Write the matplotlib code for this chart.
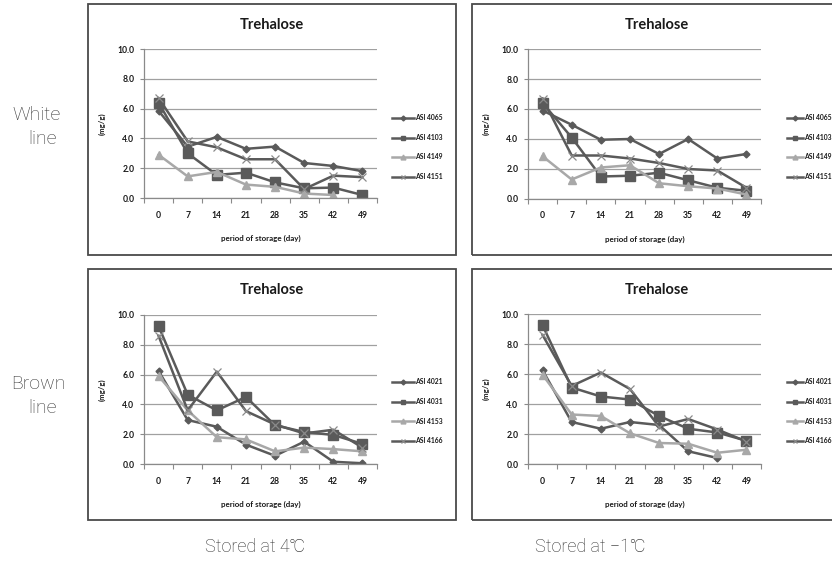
import matplotlib
matplotlib.use("Agg")
import matplotlib.pyplot as plt
from matplotlib.patches import Rectangle
from matplotlib.lines import Line2D
import numpy as np

W, H = 832, 561

days = ["0", "7", "14", "21", "28", "35", "42", "49"]
yticks = [0, 2, 4, 6, 8, 10]

# White line, stored at 4C
wl4_names = ["ASI 4065", "ASI 4103", "ASI 4149", "ASI 4151"]
wl4_4065 = [5.85, 3.45, 4.1, 3.3, 3.45, 2.35, 2.15, 1.8]
wl4_4103 = [6.4, 3.0, 1.55, 1.7, 1.05, 0.65, 0.7, 0.2]
wl4_4149 = [2.9, 1.45, 1.75, 0.9, 0.75, 0.3, 0.2, None]
wl4_4151 = [6.7, 3.8, 3.4, 2.6, 2.6, 0.6, 1.5, 1.4]

# White line, stored at -1C
wlm_names = ["ASI 4065", "ASI 4103", "ASI 4149", "ASI 4151"]
wlm_4065 = [5.9, 4.95, 3.95, 4.0, 3.0, 4.0, 2.7, 3.0]
wlm_4103 = [6.4, 4.1, 1.5, 1.55, 1.75, 1.25, 0.75, 0.55]
wlm_4149 = [2.85, 1.3, 2.1, 2.25, 1.05, 0.85, 0.7, 0.3]
wlm_4151 = [6.7, 2.9, 2.9, 2.7, 2.4, 2.0, 1.9, 0.75]

# Brown line, stored at 4C
bl4_names = ["ASI 4021", "ASI 4031", "ASI 4153", "ASI 4166"]
bl4_4021 = [6.25, 2.95, 2.5, 1.3, 0.55, 1.5, 0.15, 0.05]
bl4_4031 = [9.25, 4.65, 3.6, 4.5, 2.6, 2.15, 1.95, 1.35]
bl4_4153 = [5.9, 3.6, 1.8, 1.65, 0.85, 1.1, 1.0, 0.85]
bl4_4166 = [8.6, 3.6, 6.2, 3.55, 2.65, 2.05, 2.3, 1.1]

# Brown line, stored at -1C
blm_names = ["ASI 4021", "ASI 4031", "ASI 4153", "ASI 4166"]
blm_4021 = [6.25, 2.8, 2.35, 2.8, 2.6, 0.85, 0.4, None]
blm_4031 = [9.25, 5.1, 4.5, 4.3, 3.2, 2.35, 2.1, 1.55]
blm_4153 = [5.95, 3.3, 3.2, 2.05, 1.4, 1.35, 0.75, 0.95]
blm_4166 = [8.6, 5.2, 6.1, 5.0, 2.5, 3.0, 2.3, 1.5]

panels = [
    dict(box=(88, 4, 456, 255), ax=(144, 49, 377, 198), leg=(392, 414, 118),
         names=wl4_names, data=[wl4_4065, wl4_4103, wl4_4149, wl4_4151]),
    dict(box=(472, 4, 842, 255), ax=(528, 49, 761, 199), leg=(787, 803, 118),
         names=wlm_names, data=[wlm_4065, wlm_4103, wlm_4149, wlm_4151]),
    dict(box=(88, 269, 456, 520), ax=(144, 315, 377, 464), leg=(392, 414, 382),
         names=bl4_names, data=[bl4_4021, bl4_4031, bl4_4153, bl4_4166]),
    dict(box=(472, 269, 842, 520), ax=(528, 314, 761, 464), leg=(787, 803, 382),
         names=blm_names, data=[blm_4021, blm_4031, blm_4153, blm_4166]),
]

dark = "#5a5a5a"
light = "#a8a8a8"
styles = [
    dict(color=dark, marker="D", ms=3.5, mfc=dark, mec=dark, lw=1.8),
    dict(color=dark, marker="s", ms=6.5, mfc=dark, mec=dark, lw=1.8),
    dict(color=light, marker="^", ms=6, mfc=light, mec=light, lw=1.8),
    dict(color=dark, marker="x", ms=6, mfc="none", mec="#8a8a8a", mew=0.9, lw=1.8),
]
leg_ms = [2.5, 3.5, 3.5, 3.5]

fig = plt.figure(figsize=(W / 100, H / 100), dpi=100)
fig.patch.set_facecolor("white")

def fx(x):
    return x / W

def fy(y):
    return 1 - y / H

lab_font = ["Lato", "DejaVu Sans"]
txt_col = "#1a1a1a"

for p in panels:
    x0, y0, x1, y1 = p["box"]
    fig.add_artist(Rectangle((fx(x0), fy(y1)), fx(x1 - x0), (y1 - y0) / H,
                             transform=fig.transFigure, fill=False,
                             edgecolor="#4a4a4a", lw=1.3, clip_on=False))
    fig.text(fx((x0 + x1) / 2), fy(y0 + 21), "Trehalose", ha="center", va="center",
             fontsize=10.5, fontweight="bold", family=lab_font, color=txt_col)
    ax0, ay0, ax1, ay1 = p["ax"]
    ax = fig.add_axes([fx(ax0), fy(ay1), fx(ax1 - ax0), (ay1 - ay0) / H])
    xs = np.arange(len(days))
    for d, st in zip(p["data"], styles):
        vals = np.array([np.nan if v is None else v for v in d], dtype=float)
        ax.plot(xs, vals, **st)
    ax.set_xlim(-0.5, len(days) - 0.5)
    ax.set_ylim(0, 10)
    ax.set_yticks(yticks)
    ax.set_yticklabels([f"{v:.1f}" for v in yticks])
    ax.set_xticks(xs)
    ax.set_xticklabels(days)
    ax.set_xticks(np.arange(-0.5, len(days)), minor=True)
    ax.tick_params(axis="x", which="major", length=0, pad=9)
    ax.tick_params(axis="x", which="minor", length=3.5, color="#8a8a8a", width=0.8, direction="out")
    ax.tick_params(axis="y", which="major", length=3, color="#8a8a8a", width=0.8, pad=4)
    for lab in ax.get_xticklabels() + ax.get_yticklabels():
        lab.set_fontsize(6.2)
        lab.set_fontweight("bold")
        lab.set_family(lab_font)
        lab.set_color(txt_col)
    ax.grid(axis="y", color="#a0a0a0", lw=0.9)
    ax.set_axisbelow(True)
    for s in ["top", "right"]:
        ax.spines[s].set_visible(False)
    for s in ["left", "bottom"]:
        ax.spines[s].set_color("#8a8a8a")
        ax.spines[s].set_linewidth(0.9)
    ax.set_xlabel("period of storage (day)", fontsize=5.8, fontweight="bold",
                  family=lab_font, color=txt_col, labelpad=11)
    ax.set_ylabel("(mg/g)", fontsize=5.6, fontweight="bold", family=lab_font,
                  color=txt_col, labelpad=8)
    # manual legend
    lx0, lx1, ly = p["leg"]
    for i, (name, st) in enumerate(zip(p["names"], styles)):
        yy = fy(ly + i * 19.5)
        fig.add_artist(Line2D([fx(lx0), fx(lx1)], [yy, yy], transform=fig.transFigure,
                              color=st["color"], lw=1.8))
        fig.add_artist(Line2D([fx((lx0 + lx1) / 2)], [yy], transform=fig.transFigure,
                              linestyle="none", marker=st["marker"], ms=leg_ms[i],
                              mfc=st["mfc"], mec=st["mec"], mew=st.get("mew", 1.0)))
        fig.text(fx(lx1 + 1), yy, name, ha="left", va="center", fontsize=4.9,
                 fontweight="bold", family=lab_font, color=txt_col)

side_font = ["Roboto", "DejaVu Sans"]
side_col = "#333333"
fig.text(fx(37), fy(115), "White", ha="center", va="center", fontsize=14,
         family=side_font, fontweight="light", color=side_col)
fig.text(fx(43), fy(139), "line", ha="center", va="center", fontsize=14,
         family=side_font, fontweight="light", color=side_col)
fig.text(fx(38), fy(384), "Brown", ha="center", va="center", fontsize=14,
         family=side_font, fontweight="light", color=side_col)
fig.text(fx(43), fy(408), "line", ha="center", va="center", fontsize=14,
         family=side_font, fontweight="light", color=side_col)
fig.text(fx(255), fy(547), "Stored at 4\u2103", ha="center", va="center", fontsize=13,
         family=side_font, fontweight="light", color=side_col)
fig.text(fx(590), fy(547), "Stored at \u22121\u2103", ha="center", va="center", fontsize=13,
         family=side_font, fontweight="light", color=side_col)

fig.savefig("out.png", dpi=100, facecolor="white")
